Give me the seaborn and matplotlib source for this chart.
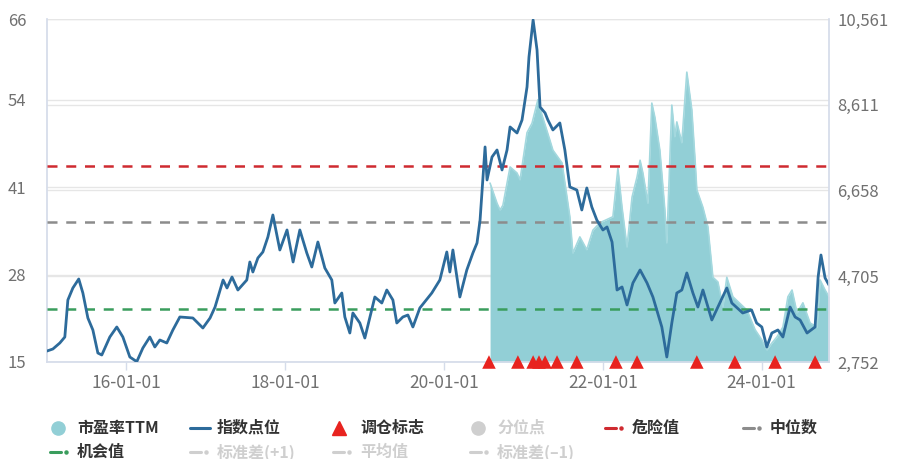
import pandas as pd
import seaborn as sns
import matplotlib.pyplot as plt
import matplotlib.dates as mdates
from matplotlib.lines import Line2D
from matplotlib.ticker import FuncFormatter

# 指数点位 (right axis)
index_dates = [
    '2015-01-01', '2015-01-28', '2015-03-01', '2015-03-24', '2015-04-07', '2015-04-30', '2015-05-27',
    '2015-06-15', '2015-07-08', '2015-07-31', '2015-08-23', '2015-09-10', '2015-10-17', '2015-11-18',
    '2015-12-16', '2016-01-17', '2016-02-18', '2016-03-17', '2016-04-18', '2016-05-11', '2016-06-03',
    '2016-07-05', '2016-08-02', '2016-09-03', '2016-11-02', '2016-12-18', '2017-01-20', '2017-02-12',
    '2017-03-21', '2017-04-08', '2017-05-01', '2017-05-28', '2017-07-08', '2017-07-22', '2017-08-05',
    '2017-08-28', '2017-09-20', '2017-10-13', '2017-11-05', '2017-12-07', '2018-01-09', '2018-02-06',
    '2018-03-09', '2018-04-10', '2018-05-03', '2018-05-31', '2018-07-02', '2018-08-03', '2018-08-17',
    '2018-09-18', '2018-10-02', '2018-10-25', '2018-11-08', '2018-12-10', '2019-01-02', '2019-02-17',
    '2019-03-21', '2019-04-13', '2019-05-11', '2019-05-29', '2019-06-26', '2019-07-19', '2019-08-11',
    '2019-09-12', '2019-11-06', '2019-12-13', '2020-01-14', '2020-01-28', '2020-02-11', '2020-03-14',
    '2020-04-15', '2020-05-13', '2020-06-01', '2020-06-15', '2020-07-08', '2020-07-17', '2020-08-09',
    '2020-09-01', '2020-09-24', '2020-10-17', '2020-10-31', '2020-12-02', '2020-12-25', '2021-01-17',
    '2021-01-26', '2021-02-14', '2021-03-04', '2021-03-18', '2021-04-10', '2021-04-23', '2021-05-16',
    '2021-06-17', '2021-07-10', '2021-08-02', '2021-09-03', '2021-09-26', '2021-10-19', '2021-11-11',
    '2021-12-04', '2022-01-01', '2022-01-20', '2022-02-12', '2022-03-07', '2022-03-30', '2022-04-22',
    '2022-05-19', '2022-06-21', '2022-07-23', '2022-08-19', '2022-09-29', '2022-10-22', '2022-11-14',
    '2022-12-07', '2022-12-30', '2023-01-22', '2023-02-19', '2023-03-14', '2023-04-06', '2023-05-17',
    '2023-06-14', '2023-07-25', '2023-08-17', '2023-10-06', '2023-11-16', '2023-12-09', '2024-01-02',
    '2024-01-25', '2024-02-17', '2024-03-16', '2024-04-08', '2024-05-11', '2024-06-03', '2024-06-26',
    '2024-07-28', '2024-09-03', '2024-09-17', '2024-09-30', '2024-10-19', '2024-11-06',
]
index_values = [
    3002, 3048, 3185, 3321, 4164, 4437, 4642,
    4323, 3754, 3481, 2957, 2911, 3321, 3549,
    3321, 2866, 2760, 3071, 3321, 3094, 3253,
    3185, 3481, 3777, 3754, 3526, 3754, 4004,
    4619, 4437, 4687, 4391, 4619, 5029, 4801,
    5120, 5257, 5598, 6099, 5302, 5758, 5029,
    5758, 5234, 4915, 5484, 4892, 4619, 4095,
    4323, 3777, 3412, 3868, 3640, 3298, 4232,
    4095, 4391, 4164, 3640, 3777, 3822, 3549,
    3982, 4323, 4619, 5257, 4801, 5302, 4232,
    4847, 5234, 5462, 5985, 7648, 6896, 7420,
    7579, 7124, 7579, 8103, 7966, 8262, 9014,
    9697, 10540, 9856, 8558, 8422, 8262, 8035,
    8194, 7579, 6737, 6668, 6213, 6714, 6281,
    5985, 5758, 5826, 5484, 4391, 4460, 4050,
    4551, 4847, 4551, 4232, 3549, 2866, 3640,
    4323, 4391, 4779, 4323, 4004, 4391, 3708,
    4004, 4437, 4095, 3868, 3936, 3640, 3549,
    3094, 3412, 3481, 3321, 4004, 3777, 3708,
    3412, 3549, 4687, 5188, 4665, 4505,
]

# 市盈率TTM (left axis)
pe_dates = [
    '2020-07-31', '2020-09-01', '2020-09-15', '2020-09-28', '2020-10-31', '2020-12-02', '2020-12-16',
    '2021-01-17', '2021-02-09', '2021-03-08', '2021-03-27', '2021-05-02', '2021-05-16', '2021-06-27',
    '2021-08-02', '2021-08-16', '2021-09-17', '2021-10-19', '2021-11-16', '2021-12-18', '2022-02-16',
    '2022-03-11', '2022-03-30', '2022-04-22', '2022-05-15', '2022-06-07', '2022-06-21', '2022-07-04',
    '2022-07-27', '2022-08-14', '2022-08-28', '2022-09-20', '2022-10-13', '2022-10-22', '2022-11-14',
    '2022-11-28', '2022-12-07', '2022-12-30', '2023-01-22', '2023-02-14', '2023-02-28', '2023-03-09',
    '2023-04-06', '2023-04-29', '2023-05-22', '2023-06-14', '2023-07-07', '2023-07-25', '2023-08-22',
    '2023-10-26', '2023-12-02', '2024-01-02', '2024-01-25', '2024-02-17', '2024-03-11', '2024-04-08',
    '2024-05-01', '2024-05-20', '2024-06-12', '2024-07-09', '2024-08-11', '2024-09-12', '2024-09-26',
    '2024-10-19', '2024-11-06',
]
pe_values = [
    41.6, 38.6, 37.6, 38.3, 44.0, 43.1, 42.1,
    49.1, 50.5, 54.0, 51.7, 48.0, 46.5, 44.6,
    36.6, 31.2, 33.6, 31.7, 34.6, 35.7, 36.6,
    43.8, 38.0, 32.1, 39.5, 42.5, 45.0, 43.1,
    38.6, 53.5, 51.4, 46.5, 37.6, 32.7, 53.2,
    48.5, 50.7, 47.6, 58.1, 52.5, 45.5, 40.6,
    38.0, 35.1, 27.6, 26.9, 23.2, 27.6, 24.7,
    22.7, 19.8, 18.3, 16.8, 17.8, 18.7, 20.2,
    24.7, 25.7, 22.3, 23.8, 20.8, 20.2, 27.2,
    25.7, 24.7,
]

# 调仓标志
signal_dates = [
    '2020-07-26', '2020-12-06', '2021-02-14', '2021-03-13', '2021-04-10', '2021-06-04', '2021-09-03',
    '2022-03-02', '2022-06-07', '2023-03-09', '2023-08-31', '2024-03-03', '2024-09-03',
]

danger_value = 44.1
median_value = 35.8
chance_value = 22.9

left_ticks = [15, 28, 41, 54, 66]
right_ticks = [2752, 4705, 6658, 8611, 10561]

legend_row1 = ['市盈率TTM', '指数点位', '调仓标志', '分位点', '危险值', '中位数']
legend_row2 = ['机会值', '标准差(+1)', '平均值', '标准差(–1)']

# colours
c_area = '#92cfd6'
c_index = '#2d6b9b'
c_red = '#cf2a30'
c_gray = '#8c8c8c'
c_green = '#3a9d5d'
c_signal = '#e8231f'
c_off = '#cfcfcf'
c_grid = '#e6e6e6'
c_axis = '#d5dcea'

sns.set_theme(style='white')
plt.rcParams['font.family'] = ['Noto Sans CJK SC', 'DejaVu Sans']

idx = pd.DataFrame({'date': pd.to_datetime(index_dates), 'value': index_values})
pe = pd.DataFrame({'date': pd.to_datetime(pe_dates), 'value': pe_values})
sig = pd.DataFrame({'date': pd.to_datetime(signal_dates), 'value': [left_ticks[0]] * len(signal_dates)})

W, H = 900, 459
fig = plt.figure(figsize=(W / 100, H / 100), dpi=100)
ax = fig.add_axes([47 / W, 1 - 362 / H, (829 - 47) / W, (362 - 19) / H])
ax2 = ax.twinx()

ax.set_ylim(left_ticks[0], left_ticks[-1])
ax2.set_ylim(right_ticks[0], right_ticks[-1])
ax.set_xlim(idx['date'].min(), idx['date'].max())

# grid lines (right-axis ones drawn on the left axes so they stay behind the area)
for t in left_ticks:
    ax.axhline(t, color=c_grid, lw=1, zorder=0)
lo, hi = left_ticks[0], left_ticks[-1]
rlo, rhi = right_ticks[0], right_ticks[-1]
for t in right_ticks:
    ax.axhline(lo + (t - rlo) / (rhi - rlo) * (hi - lo), color=c_grid, lw=1, zorder=0)

# PE area
ax.fill_between(pe['date'], lo, pe['value'], color=c_area, lw=0, zorder=1)
sns.lineplot(data=pe, x='date', y='value', ax=ax, color='#a3d8de', linewidth=1.2, zorder=2)

# reference levels
for val, col in [(danger_value, c_red), (median_value, c_gray), (chance_value, c_green)]:
    ax.axhline(val, color=col, lw=1.8, linestyle=(0, (4, 3.5)), zorder=3)

# signal triangles
sns.scatterplot(data=sig, x='date', y='value', ax=ax, marker='^', s=95, color=c_signal,
                edgecolor='none', clip_on=False, zorder=6)

# index line
sns.lineplot(data=idx, x='date', y='value', ax=ax2, color=c_index, linewidth=2.0)

# axes styling
for a in (ax, ax2):
    a.set_xlabel('')
    a.set_ylabel('')
    for s in a.spines.values():
        s.set_visible(False)
ax.spines['left'].set_visible(True)
ax.spines['left'].set_color(c_axis)
ax.spines['bottom'].set_visible(True)
ax.spines['bottom'].set_color(c_axis)
ax2.spines['right'].set_visible(True)
ax2.spines['right'].set_color(c_axis)

ax.set_yticks(left_ticks)
ax2.set_yticks(right_ticks)
ax2.yaxis.set_major_formatter(FuncFormatter(lambda v, p: f'{int(v):,}'))
ax.tick_params(axis='y', length=0, pad=15, labelsize=12, labelcolor='#707070')
ax2.tick_params(axis='y', length=0, pad=6, labelsize=12, labelcolor='#707070')

ax.xaxis.set_major_locator(mdates.YearLocator(base=2, month=1, day=1))
ax.xaxis.set_major_formatter(mdates.DateFormatter('%y-%m-%d'))
ax.tick_params(axis='x', bottom=True, length=6, width=1, color=c_axis, pad=3,
               labelsize=12.5, labelcolor='#707070')

# legend, drawn by hand in two rows
col_x = [50, 190, 333, 470, 605, 743]
row_y = [428, 452]


def fx(px):
    return px / W


def fy(py):
    return 1 - py / H


def dash_dot(x0, y, col):
    fig.add_artist(Line2D([fx(x0), fx(x0 + 11)], [fy(y), fy(y)], transform=fig.transFigure,
                          color=col, lw=2.2))
    fig.add_artist(Line2D([fx(x0 + 16)], [fy(y)], transform=fig.transFigure, marker='o',
                          markersize=2.2, color=col, lw=0))


row1_styles = [('circle', c_area, '#333333'), ('line', c_index, '#333333'),
               ('tri', c_signal, '#333333'), ('circle', c_off, c_off),
               ('dd', c_red, '#333333'), ('dd', c_gray, '#333333')]
row2_styles = [('dd', c_green, '#333333'), ('dd', c_off, c_off),
               ('dd', c_off, c_off), ('dd', c_off, c_off)]

for labels, styles, y in [(legend_row1, row1_styles, row_y[0]), (legend_row2, row2_styles, row_y[1])]:
    for i, (lab, (kind, mcol, tcol)) in enumerate(zip(labels, styles)):
        x0 = col_x[i]
        if kind == 'circle':
            fig.add_artist(Line2D([fx(x0 + 8)], [fy(y)], transform=fig.transFigure, marker='o',
                                  markersize=9.5, color=mcol, lw=0))
        elif kind == 'line':
            fig.add_artist(Line2D([fx(x0), fx(x0 + 20)], [fy(y), fy(y)], transform=fig.transFigure,
                                  color=mcol, lw=2.2))
        elif kind == 'tri':
            fig.add_artist(Line2D([fx(x0 + 6)], [fy(y)], transform=fig.transFigure, marker='^',
                                  markersize=9.5, color=mcol, lw=0))
        else:
            dash_dot(x0, y, mcol)
        fig.text(fx(x0 + 27), fy(y), lab, ha='left', va='center', fontsize=11.5,
                 fontweight='bold', color=tcol)

fig.savefig('out.png', dpi=100)
